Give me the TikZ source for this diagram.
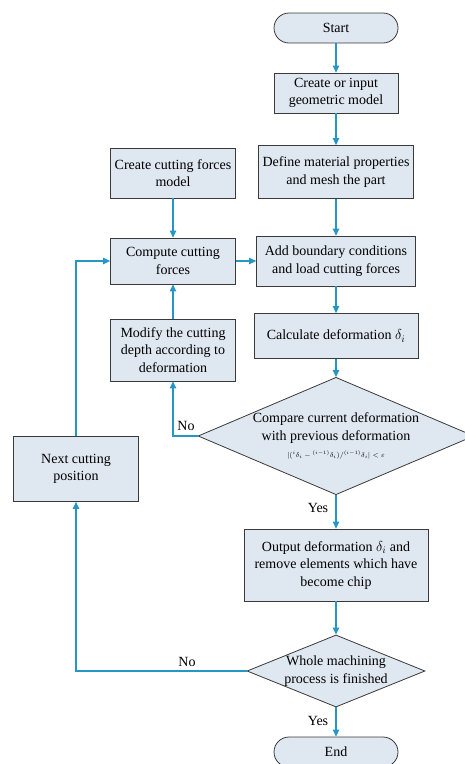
\documentclass[tikz,border=0pt]{standalone}
\usepackage{amsmath}
\usepackage{fontspec}
\setmainfont{Liberation Serif}
\usepackage{tikz}
\usetikzlibrary{arrows, arrows.meta, shapes.geometric, positioning}
\tikzset{>={Stealth[length=7pt, width=6.5pt, inset=0pt]}}
\definecolor{boxfill}{HTML}{DFE7F0}
\definecolor{flowline}{HTML}{2596C5}
\definecolor{boxline}{HTML}{3A3A3A}

\begin{document}
\begin{tikzpicture}[x=1pt, y=-1pt,
		every node/.style={font=\fontsize{14pt}{17.5pt}\selectfont, align=center, inner sep=0pt},
		box/.style={rectangle, draw=boxline, fill=boxfill, line width=0.8pt},
		term/.style={rectangle, rounded corners=15pt, draw=boxline, fill=boxfill, line width=0.8pt, minimum width=124pt, minimum height=30pt},
		choice/.style={diamond, draw=boxline, fill=boxfill, line width=0.8pt},
		flow/.style={->, draw=flowline, line width=1.2pt}]
		\useasboundingbox (0,0) rectangle (464,764);
		\node[term] (start) at (336,28) {Start};
		\node[box, minimum width=124pt, minimum height=40pt] (geom) at (336,93) {Create or input\\geometric model};
		\node[box, minimum width=155pt, minimum height=53pt] (mesh) at (336,172) {Define material properties\\and mesh the part};
		\node[box, minimum width=125pt, minimum height=50pt] (force) at (173,173) {Create cutting forces\\model};
		\node[box, minimum width=125pt, minimum height=46pt] (compute) at (173,261) {Compute cutting\\forces};
		\node[box, minimum width=159pt, minimum height=50pt] (bound) at (336,261) {Add boundary conditions\\and load cutting forces};
		\node[box, minimum width=164pt, minimum height=45pt] (calc) at (336,336) {Calculate deformation $\delta_i$};
		\node[box, minimum width=125pt, minimum height=62pt] (modify) at (173,350) {Modify the cutting\\depth according to\\deformation};
		\node[choice, aspect=2.35, minimum width=272pt, minimum height=116pt] (cmp) at (336,436) {Compare current deformation\\with previous deformation\\{\fontsize{7pt}{8pt}\selectfont $|({}^{i}\delta_i-{}^{(i-1)}\delta_i)/{}^{(i-1)}\delta_i|<\varepsilon$}};
		\node[box, minimum width=125pt, minimum height=65pt] (next) at (76,469) {Next cutting\\position};
		\node[box, minimum width=184pt, minimum height=72pt] (out) at (336,565) {Output deformation $\delta_i$ and\\remove elements which have\\become chip};
		\node[choice, aspect=2.47, minimum width=178pt, minimum height=72pt] (whole) at (336,671) {Whole machining\\process is finished};
		\node[term] (stop) at (336,752) {End};

		\draw [flow](start) to (geom); \draw [flow](geom)--(mesh);
		\draw [flow](mesh)--(bound); \draw [flow](force)--(compute);
		\draw [flow](compute)--(bound); \draw [flow](bound)--(calc);
		\draw [flow](calc)--(cmp); \draw [flow](modify)--(compute);
		\draw [flow](cmp.west) -| (modify.south);
		\draw [flow](cmp.south)--(out); \draw [flow](out)--(whole);
		\draw [flow](whole.south)--(stop);
		\draw [flow](whole.west) -| (next.south);
		\draw [flow](next.north) |- (compute.west);
		\node (no1) at (186,426) {No};  \node (yes1) at (318,508) {Yes};
		\node (no2) at (187,662) {No};  \node (yes2) at (318,721) {Yes};
		\end{tikzpicture}
\end{document}
